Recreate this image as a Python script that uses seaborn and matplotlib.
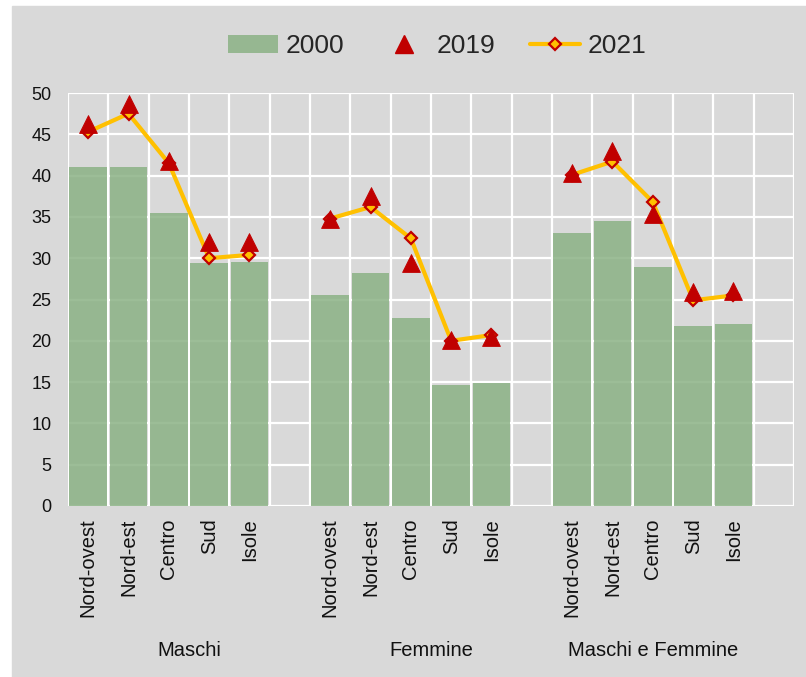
import numpy as np
import pandas as pd
import matplotlib
matplotlib.use('Agg')
import matplotlib.pyplot as plt
from matplotlib.patches import Patch, Rectangle
from matplotlib.lines import Line2D
from matplotlib.transforms import blended_transform_factory
import seaborn as sns

# --- dati ---
REGIONI = ['Nord-ovest', 'Nord-est', 'Centro', 'Sud', 'Isole']
GRUPPI = ['Maschi', 'Femmine', 'Maschi e Femmine']

v2000_maschi = [41.1, 41.1, 35.5, 29.4, 29.5]
v2000_femmine = [25.5, 28.2, 22.8, 14.7, 14.9]
v2000_mf = [33.0, 34.5, 28.9, 21.8, 22.0]

v2019_maschi = [46.2, 48.7, 41.8, 32.0, 32.0]
v2019_femmine = [34.8, 37.5, 29.4, 20.1, 20.5]
v2019_mf = [40.3, 43.0, 35.4, 25.9, 26.0]

v2021_maschi = [45.3, 47.5, 41.5, 30.0, 30.4]
v2021_femmine = [34.8, 36.2, 32.4, 20.0, 20.7]
v2021_mf = [40.1, 41.7, 36.8, 24.9, 25.5]

# colori
GRIGIO = '#D9D9D9'
VERDE = '#8BB285'
ROSSO = '#C00000'
GIALLO = '#FFC000'

# --- tabella in formato lungo: 5 regioni per gruppo + una colonna vuota dopo ogni gruppo ---
righe = []
serie = [(v2000_maschi, v2019_maschi, v2021_maschi),
         (v2000_femmine, v2019_femmine, v2021_femmine),
         (v2000_mf, v2019_mf, v2021_mf)]
for g, (a, b, c) in enumerate(serie):
    for r, reg in enumerate(REGIONI):
        righe.append({'pos': g * 6 + r, 'gruppo': GRUPPI[g], 'regione': reg,
                      'v2000': a[r], 'v2019': b[r], 'v2021': c[r]})
df = pd.DataFrame(righe)

sns.set_style('whitegrid', {'axes.facecolor': GRIGIO, 'grid.color': 'white',
                            'axes.edgecolor': GRIGIO})
plt.rcParams['font.family'] = ['Liberation Sans', 'DejaVu Sans']

fig = plt.figure(figsize=(8.06, 6.77), dpi=100, facecolor='white')
fig.add_artist(Rectangle((12 / 806, 0), 1 - 12 / 806, 1 - 6 / 677,
                         transform=fig.transFigure, color=GRIGIO, zorder=-5))
ax = fig.add_axes([68 / 806, (677 - 506) / 677, 726 / 806, 413 / 677])

sns.barplot(data=df, x='pos', y='v2000', native_scale=True, width=0.93,
            color=VERDE, saturation=1, alpha=0.85, errorbar=None,
            linewidth=0, ax=ax, zorder=2)

sns.lineplot(data=df, x='pos', y='v2021', units='gruppo', estimator=None,
             color=GIALLO, linewidth=3, marker='D', markersize=6.5,
             markerfacecolor=GIALLO, markeredgecolor=ROSSO, markeredgewidth=1.6,
             ax=ax, zorder=3)

sns.scatterplot(data=df, x='pos', y='v2019', marker='^', s=165, color=ROSSO,
                edgecolor=ROSSO, linewidth=0.6, ax=ax, zorder=4)

# assi
ax.set_xlim(-0.5, 17.5)
ax.set_ylim(0, 50)
ax.set_yticks(np.arange(0, 51, 5))
etichette = []
for g in range(3):
    etichette += REGIONI + ['']
ax.set_xticks(range(18))
ax.set_xticklabels(etichette, rotation=90, fontsize=14.5, color='#111111')
ax.set_xticks(np.arange(-0.5, 18, 1), minor=True)
ax.tick_params(axis='x', which='both', length=0, pad=9)
ax.tick_params(axis='y', length=0, pad=12, labelsize=13, labelcolor='#111111')
ax.grid(False)
ax.grid(True, axis='y', which='major', color='white', linewidth=1.6, zorder=0)
ax.grid(True, axis='x', which='minor', color='white', linewidth=1.6, zorder=0)
ax.set_axisbelow(True)
ax.set_xlabel('')
ax.set_ylabel('')
for s in ax.spines.values():
    s.set_visible(False)

# etichette dei gruppi
tr = blended_transform_factory(ax.transData, fig.transFigure)
for xg, nome in zip([2.5, 8.5, 14], GRUPPI):
    ax.text(xg, 1 - 650 / 677, nome, transform=tr, ha='center', va='center',
            fontsize=14.5, color='#111111')

# legenda
handles = [
    Patch(facecolor=VERDE, edgecolor='none', alpha=0.85, label='2000'),
    Line2D([0], [0], linestyle='none', marker='^', markersize=13, color=ROSSO, label='2019'),
    Line2D([0], [0], color=GIALLO, linewidth=3, marker='D', markersize=6.5,
           markerfacecolor=GIALLO, markeredgecolor=ROSSO, markeredgewidth=1.6, label='2021'),
]
fig.legend(handles=handles, loc='center', bbox_to_anchor=(437 / 806, 1 - 46 / 677),
           ncol=3, frameon=False, fontsize=19, handlelength=1.9, handleheight=0.7,
           handletextpad=0.3, columnspacing=1.3)

fig.savefig('out.png', dpi=100, facecolor=fig.get_facecolor())
